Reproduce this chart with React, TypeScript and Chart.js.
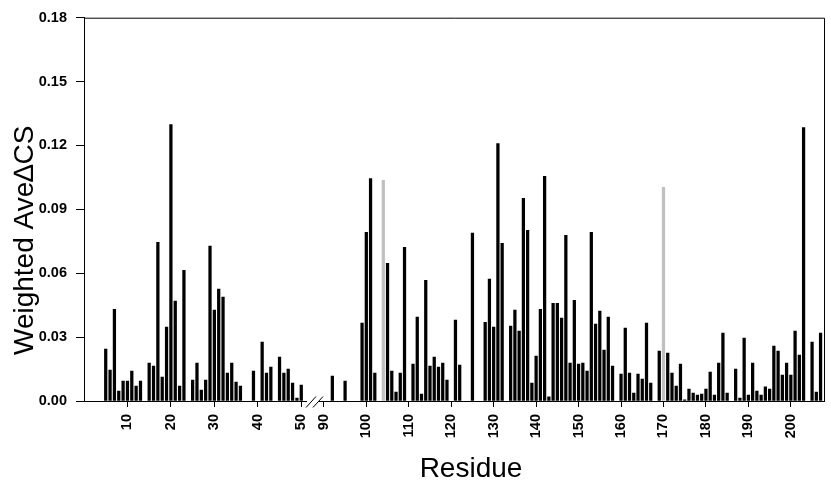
import React, { useEffect, useRef } from 'react';
import { Chart, registerables } from 'chart.js';

Chart.register(...registerables);

// Residue numbers (axis is broken between 50 and 90)
const RESIDUES = [
  5, 6, 7, 8, 9, 10, 11, 12, 13, 15, 16, 17, 18, 19, 20, 21, 22, 23, 25, 26, 27, 28, 29, 30,
  31, 32, 33, 34, 35, 36, 39, 41, 42, 43, 45, 46, 47, 48, 49, 50,
  92, 95, 99, 100, 101, 102, 104, 105, 106, 107, 108, 109, 111, 112, 113, 114, 115, 116, 117,
  118, 119, 121, 122, 125, 128, 129, 130, 131, 132, 134, 135, 136, 137, 138, 139, 140, 141,
  142, 143, 144, 145, 146, 147, 148, 149, 150, 151, 152, 153, 154, 155, 156, 157, 158, 160,
  161, 162, 163, 164, 165, 166, 167, 169, 170, 171, 172, 173, 174, 175, 176, 177, 178, 179,
  180, 181, 182, 183, 184, 185, 187, 188, 189, 190, 191, 192, 193, 194, 195, 196, 197, 198,
  199, 200, 201, 202, 203, 205, 206, 207,
];

// Weighted average chemical shift change per residue
const VALUES = [
  0.0244, 0.0145, 0.043, 0.0047, 0.0094, 0.0094, 0.0141, 0.007, 0.0094, 0.0178, 0.0164, 0.0745,
  0.0112, 0.0347, 0.1298, 0.0469, 0.007, 0.0614, 0.0098, 0.0178, 0.0051, 0.0098, 0.0727, 0.0427,
  0.0525, 0.0488, 0.0131, 0.0178, 0.0089, 0.007, 0.0141, 0.0277, 0.0131, 0.0159, 0.0206, 0.0131,
  0.015, 0.0084, 0.0014, 0.0075,
  0.0117, 0.0094, 0.0366, 0.0792, 0.1045, 0.0131, 0.1036, 0.0647, 0.0141, 0.0042, 0.0131, 0.0722,
  0.0173, 0.0394, 0.0033, 0.0567, 0.0164, 0.0206, 0.0159, 0.0178, 0.0098, 0.038, 0.0169, 0.0788,
  0.037, 0.0572, 0.0347, 0.1209, 0.0741, 0.0352, 0.0427, 0.0328, 0.0952, 0.0802, 0.0084, 0.0211,
  0.0431, 0.1055, 0.0019, 0.0459, 0.0459, 0.0389, 0.0778, 0.0178, 0.0473, 0.0173, 0.0178, 0.0141,
  0.0792, 0.0361, 0.0422, 0.0239, 0.0394, 0.0164, 0.0127, 0.0342, 0.0131, 0.0037, 0.0127, 0.0103,
  0.0366, 0.0084, 0.0234, 0.1003, 0.0225, 0.0131, 0.007, 0.0173, 0.0005, 0.0056, 0.0037, 0.0028,
  0.0033, 0.0056, 0.0136, 0.0028, 0.0178, 0.0319, 0.0037, 0.015, 0.0014, 0.0295, 0.0028, 0.0178,
  0.0047, 0.0028, 0.0066, 0.0056, 0.0258, 0.0234, 0.0122, 0.0178, 0.0122, 0.0328, 0.0216, 0.1284,
  0.0277, 0.0042, 0.0319,
];

// Residues drawn in grey
const HIGHLIGHTED = [104, 170];

// X tick labels (residue numbers)
const X_TICKS = [10, 20, 30, 40, 50, 90, 100, 110, 120, 130, 140, 150, 160, 170, 180, 190, 200];

// Y axis
const Y_MIN = 0;
const Y_MAX = 0.18;
const Y_STEP = 0.03;

const X_TITLE = 'Residue';
const Y_TITLE = 'Weighted Ave\u2206CS';

// Axis break: residues >= BREAK_RESUME continue after the break with their own scale
const BREAK_RESUME = 90;
const AXIS_POS_AT_RESUME = 55.2;
const POST_BREAK_SCALE = 0.977;
const AXIS_MIN = 0;
const AXIS_MAX = 170.3;
const BREAK_AXIS_POS = 53.1;

const toAxis = (r: number) =>
  r < BREAK_RESUME ? r : AXIS_POS_AT_RESUME + (r - BREAK_RESUME) * POST_BREAK_SCALE;

const FONT = 'Arial, "Liberation Sans", sans-serif';

const decorPlugin = {
  id: 'decor',
  afterDraw(chart: any) {
    const { ctx, chartArea } = chart;
    const { left, right, top, bottom } = chartArea;
    const xs = chart.scales.x;
    ctx.save();
    // frame top + right
    ctx.strokeStyle = '#000';
    ctx.lineWidth = 1;
    ctx.beginPath();
    ctx.moveTo(left, top + 0.5);
    ctx.lineTo(Math.round(right) + 0.5, top + 0.5);
    ctx.lineTo(Math.round(right) + 0.5, bottom);
    ctx.stroke();

    // axis break
    const c = Math.round(xs.getPixelForValue(BREAK_AXIS_POS));
    ctx.fillStyle = '#fff';
    ctx.fillRect(c - 8, bottom - 2, 12, 5);
    ctx.beginPath();
    ctx.moveTo(c - 9, bottom + 6.5);
    ctx.lineTo(c + 1, bottom - 4.5);
    ctx.moveTo(c - 2, bottom + 6.5);
    ctx.lineTo(c + 8, bottom - 4.5);
    ctx.stroke();

    // titles
    ctx.fillStyle = '#000';
    ctx.font = `28px ${FONT}`;
    ctx.textAlign = 'center';
    ctx.textBaseline = 'alphabetic';
    ctx.fillText(X_TITLE, (left + right) / 2 + 17, bottom + 76);

    ctx.translate(33, (top + bottom) / 2 + 31);
    ctx.rotate(-Math.PI / 2);
    ctx.fillText(Y_TITLE, 0, 0);
    ctx.restore();
  },
};

export default function App() {
  const canvasRef = useRef<HTMLCanvasElement | null>(null);

  useEffect(() => {
    if (!canvasRef.current) return;
    const data = RESIDUES.map((r, i) => ({ x: toAxis(r), y: VALUES[i] }));
    const colors = RESIDUES.map((r) => (HIGHLIGHTED.includes(r) ? '#c0c0c0' : '#000000'));

    const chart = new Chart(canvasRef.current, {
      type: 'bar',
      data: {
        datasets: [
          {
            data,
            backgroundColor: colors,
            borderWidth: 0,
            barThickness: 2.6,
          },
        ],
      },
      options: {
        animation: false,
        responsive: true,
        maintainAspectRatio: false,
        layout: { padding: { top: 15, right: 7, left: 0, bottom: 0 } },
        plugins: {
          legend: { display: false },
          tooltip: { enabled: false },
        },
        scales: {
          x: {
            type: 'linear',
            min: AXIS_MIN,
            max: AXIS_MAX,
            offset: false,
            grid: {
              display: true,
              drawOnChartArea: false,
              drawTicks: true,
              tickLength: 6,
              color: '#000',
              offset: false,
            },
            border: { display: true, color: '#000', width: 1 },
            afterBuildTicks: (scale: any) => {
              scale.ticks = X_TICKS.map((r) => ({ value: toAxis(r) }));
            },
            afterFit: (scale: any) => {
              scale.height = 86;
            },
            ticks: {
              autoSkip: false,
              minRotation: 90,
              maxRotation: 90,
              padding: 7,
              color: '#000',
              font: { family: FONT, size: 14.5, weight: 'bold' },
              callback: (_v: any, i: number) => String(X_TICKS[i]),
            },
          },
          y: {
            min: Y_MIN,
            max: Y_MAX,
            grid: {
              display: true,
              drawOnChartArea: false,
              drawTicks: true,
              tickLength: 8,
              color: '#000',
            },
            border: { display: true, color: '#000', width: 1 },
            afterFit: (scale: any) => {
              scale.width = 84;
            },
            ticks: {
              stepSize: Y_STEP,
              padding: 9,
              color: '#000',
              font: { family: FONT, size: 14.5, weight: 'bold' },
              callback: (v: any) => Number(v).toFixed(2),
            },
          },
        },
      },
      plugins: [decorPlugin],
    });
    return () => chart.destroy();
  }, []);

  return (
    <div style={{ position: 'absolute', left: 0, top: 0, width: 831, height: 487, background: '#fff' }}>
      <canvas ref={canvasRef} />
    </div>
  );
}
